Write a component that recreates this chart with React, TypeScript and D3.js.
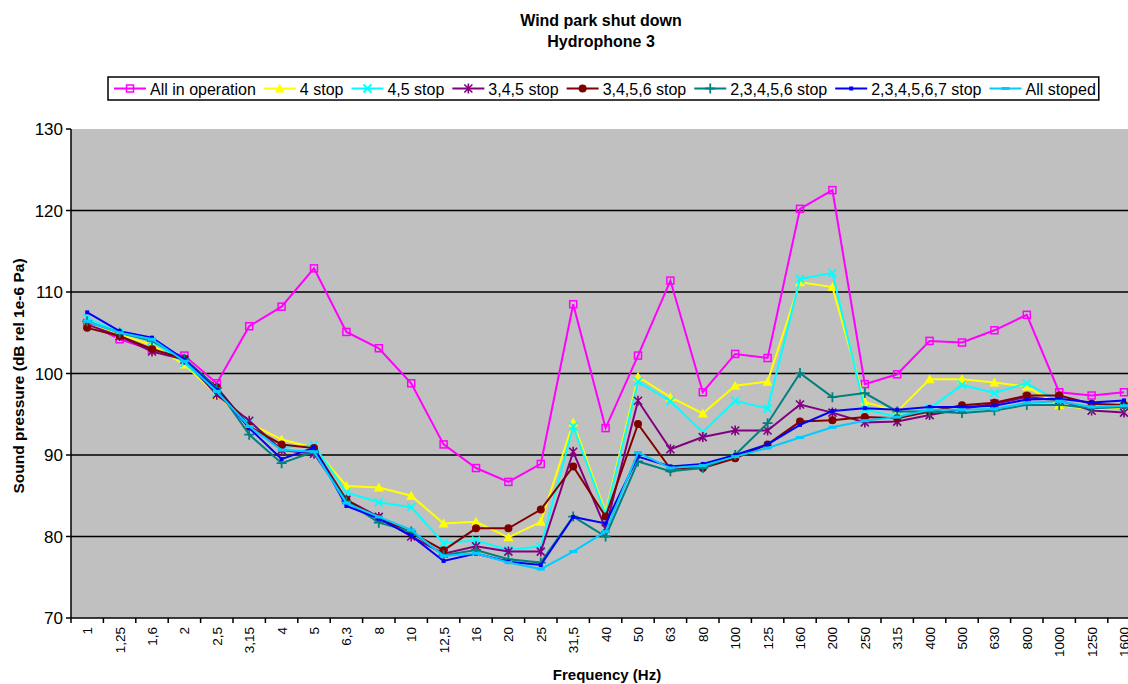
import React from "react";
import * as d3 from "d3";

const categories = ["1","1,25","1,6","2","2,5","3,15","4","5","6,3","8","10","12,5","16","20","25","31,5","40","50","63","80","100","125","160","200","250","315","400","500","630","800","1000","1250","1600"];

const allInOperation = [106.2,104.2,102.9,102.2,98.8,105.8,108.2,112.9,105.1,103.1,98.8,91.3,88.4,86.7,88.9,108.5,93.3,102.2,111.4,97.7,102.4,101.9,120.2,122.5,98.7,99.9,104.0,103.8,105.3,107.2,97.7,97.3,97.7];
const fourStop = [106.0,104.8,103.5,101.1,97.4,93.9,91.9,90.9,86.2,86.0,85.0,81.6,81.8,79.9,81.8,94.0,83.0,99.6,97.1,95.1,98.5,99.0,111.2,110.6,96.5,95.35,99.3,99.3,98.9,98.4,96.1,95.6,95.8];
const fourFiveStop = [106.8,105.0,104.0,101.3,97.6,94.0,90.85,91.2,85.4,84.2,83.6,79.2,79.5,78.35,78.8,93.5,82.65,99.0,96.6,92.8,96.65,95.7,111.6,112.35,95.6,94.7,95.7,98.6,97.6,98.8,96.6,95.75,95.95];
const threeFourFiveStop = [106.0,104.6,102.7,101.7,97.4,94.2,90.6,90.15,84.5,82.4,80.0,77.9,78.8,78.15,78.15,90.4,81.0,96.65,90.7,92.2,93.0,93.0,96.2,95.2,94.0,94.1,94.9,95.65,96.3,97.1,96.7,95.45,95.2];
const threeToSixStop = [105.6,104.6,103.0,101.8,98.3,93.5,91.3,90.85,84.5,82.25,80.5,78.3,81.0,81.0,83.3,88.6,82.45,93.8,88.3,88.4,89.6,91.3,94.1,94.25,94.65,94.5,95.35,96.1,96.4,97.3,97.3,96.3,96.15];
const twoToSixStop = [106.4,105.0,104.0,101.8,98.2,92.5,89.0,90.4,84.3,81.7,80.6,77.7,78.35,77.2,76.8,82.45,80.0,89.2,88.0,88.4,90.0,93.9,100.05,97.1,97.6,95.35,95.35,95.15,95.45,96.15,96.15,95.75,95.9];
const twoToSevenStop = [107.5,105.2,104.4,101.7,98.0,93.3,89.5,90.9,83.75,82.2,80.1,77.0,77.9,76.9,76.5,82.4,81.6,89.8,88.6,88.9,90.0,91.3,93.7,95.4,95.75,95.55,95.9,95.9,96.05,96.8,96.9,96.45,96.7];
const allStoped = [106.4,105.0,104.2,101.5,97.8,93.5,90.6,90.4,84.1,82.4,80.8,77.6,77.95,76.8,76.0,78.15,80.6,90.3,88.4,88.7,89.8,90.85,92.15,93.4,94.2,94.65,95.55,95.55,95.65,96.4,96.6,95.9,96.05];

const seriesNames = ["All in operation","4 stop","4,5 stop","3,4,5 stop","3,4,5,6 stop","2,3,4,5,6 stop","2,3,4,5,6,7 stop","All stoped"];
const seriesColors = ["#FF00FF","#FFFF00","#00FFFF","#800080","#800000","#008080","#0000FF","#00CCFF"];
const seriesMarkers = ["square","triangle","x","star","circle","plus","small","dash"];
const seriesValues = [allInOperation,fourStop,fourFiveStop,threeFourFiveStop,threeToSixStop,twoToSixStop,twoToSevenStop,allStoped];

const yTicks = [70,80,90,100,110,120,130];

const FONT = "'Liberation Sans', Arial, sans-serif";

function measure(text: string, font: string) {
  const c = document.createElement("canvas").getContext("2d");
  if (!c) return text.length * 8;
  c.font = font;
  return c.measureText(text).width;
}

function Marker({ type, color, cx, cy }: { type: string; color: string; cx: number; cy: number }) {
  switch (type) {
    case "square":
      return <rect x={cx - 3.5} y={cy - 3.5} width={7} height={7} fill="none" stroke={color} strokeWidth={1.5} />;
    case "triangle":
      return <path d={`M${cx},${cy - 5}L${cx + 5},${cy + 4}L${cx - 5},${cy + 4}Z`} fill={color} />;
    case "x":
      return <path d={`M${cx - 4},${cy - 4}L${cx + 4},${cy + 4}M${cx - 4},${cy + 4}L${cx + 4},${cy - 4}`} stroke={color} strokeWidth={1.8} />;
    case "star":
      return <path d={`M${cx - 4},${cy - 4}L${cx + 4},${cy + 4}M${cx - 4},${cy + 4}L${cx + 4},${cy - 4}M${cx},${cy - 5}L${cx},${cy + 5}`} stroke={color} strokeWidth={1.6} />;
    case "circle":
      return <circle cx={cx} cy={cy} r={4} fill={color} />;
    case "plus":
      return <path d={`M${cx - 5},${cy}L${cx + 5},${cy}M${cx},${cy - 5}L${cx},${cy + 5}`} stroke={color} strokeWidth={1.8} />;
    case "small":
      return <rect x={cx - 2} y={cy - 2} width={4} height={4} fill={color} />;
    case "dash":
      return <rect x={cx - 4} y={cy - 1.5} width={8} height={3} fill={color} />;
    default:
      return null;
  }
}

export default function App() {
  const W = 1128, H = 684;
  const left = 71, step = 32.4;
  const right = left + categories.length * step;
  const top = 129, bottom = 618;
  const x = d3.scaleBand<string>().domain(categories).range([left, right]).padding(0);
  const y = d3.scaleLinear().domain([70, 130]).range([bottom, top]);
  const cx = (c: string) => (x(c) ?? 0) + x.bandwidth() / 2;
  const line = d3.line<number>().x((_, i) => cx(categories[i])).y((d) => y(d));

  const legendFont = `16px ${FONT}`;
  let lx = 114;
  const legendItems = seriesNames.map((name, i) => {
    const item = { name, i, x0: lx };
    lx = lx + 36 + measure(name, legendFont) + 8;
    return item;
  });
  const legendRight = lx - 5;

  return (
    <svg width={W} height={H} style={{ position: "absolute", left: 0, top: 0, background: "#fff" }} fontFamily={FONT}>
      <text x={601} y={26} textAnchor="middle" fontWeight="bold" fontSize={16}>Wind park shut down</text>
      <text x={601} y={47} textAnchor="middle" fontWeight="bold" fontSize={16}>Hydrophone 3</text>

      <rect x={left} y={top} width={right - left} height={bottom - top} fill="#C0C0C0" />
      {yTicks.filter((t) => t > 70 && t < 130).map((t) => (
        <line key={t} x1={left} x2={right} y1={y(t)} y2={y(t)} stroke="#000" strokeWidth={1.3} />
      ))}
      <line x1={left} x2={left} y1={top} y2={bottom} stroke="#000" strokeWidth={1.5} />
      <line x1={left} x2={right} y1={bottom} y2={bottom} stroke="#000" strokeWidth={1.5} />
      {yTicks.map((t) => (
        <g key={t}>
          <line x1={left - 5} x2={left} y1={y(t)} y2={y(t)} stroke="#000" strokeWidth={1.5} />
          <text x={63} y={y(t) + 6} textAnchor="end" fontSize={17}>{t}</text>
        </g>
      ))}
      {categories.map((c, k) => (
        <line key={"t" + k} x1={x(c)!} x2={x(c)!} y1={bottom} y2={bottom + 5} stroke="#000" strokeWidth={1.5} />
      ))}
      {categories.map((c) => (
        <text key={"l" + c} transform={`translate(${cx(c) + 5},${627}) rotate(-90)`} textAnchor="end" fontSize={13.5}>{c}</text>
      ))}

      {seriesValues.map((vals, s) => (
        <g key={s}>
          <path d={line(vals) ?? ""} fill="none" stroke={seriesColors[s]} strokeWidth={2} />
          {vals.map((v, i) => (
            <Marker key={i} type={seriesMarkers[s]} color={seriesColors[s]} cx={cx(categories[i])} cy={y(v)} />
          ))}
        </g>
      ))}

      <text transform={`translate(24,376) rotate(-90)`} textAnchor="middle" fontWeight="bold" fontSize={15.5}>Sound pressure (dB rel 1e-6 Pa)</text>
      <text x={607} y={680} textAnchor="middle" fontWeight="bold" fontSize={15}>Frequency (Hz)</text>

      <rect x={108} y={77} width={legendRight - 108} height={23} fill="#fff" stroke="#000" strokeWidth={1.5} />
      {legendItems.map((it) => (
        <g key={it.name}>
          <line x1={it.x0} x2={it.x0 + 32} y1={88.5} y2={88.5} stroke={seriesColors[it.i]} strokeWidth={2} />
          <Marker type={seriesMarkers[it.i]} color={seriesColors[it.i]} cx={it.x0 + 16} cy={88.5} />
          <text x={it.x0 + 36} y={95} fontSize={16}>{it.name}</text>
        </g>
      ))}
    </svg>
  );
}
